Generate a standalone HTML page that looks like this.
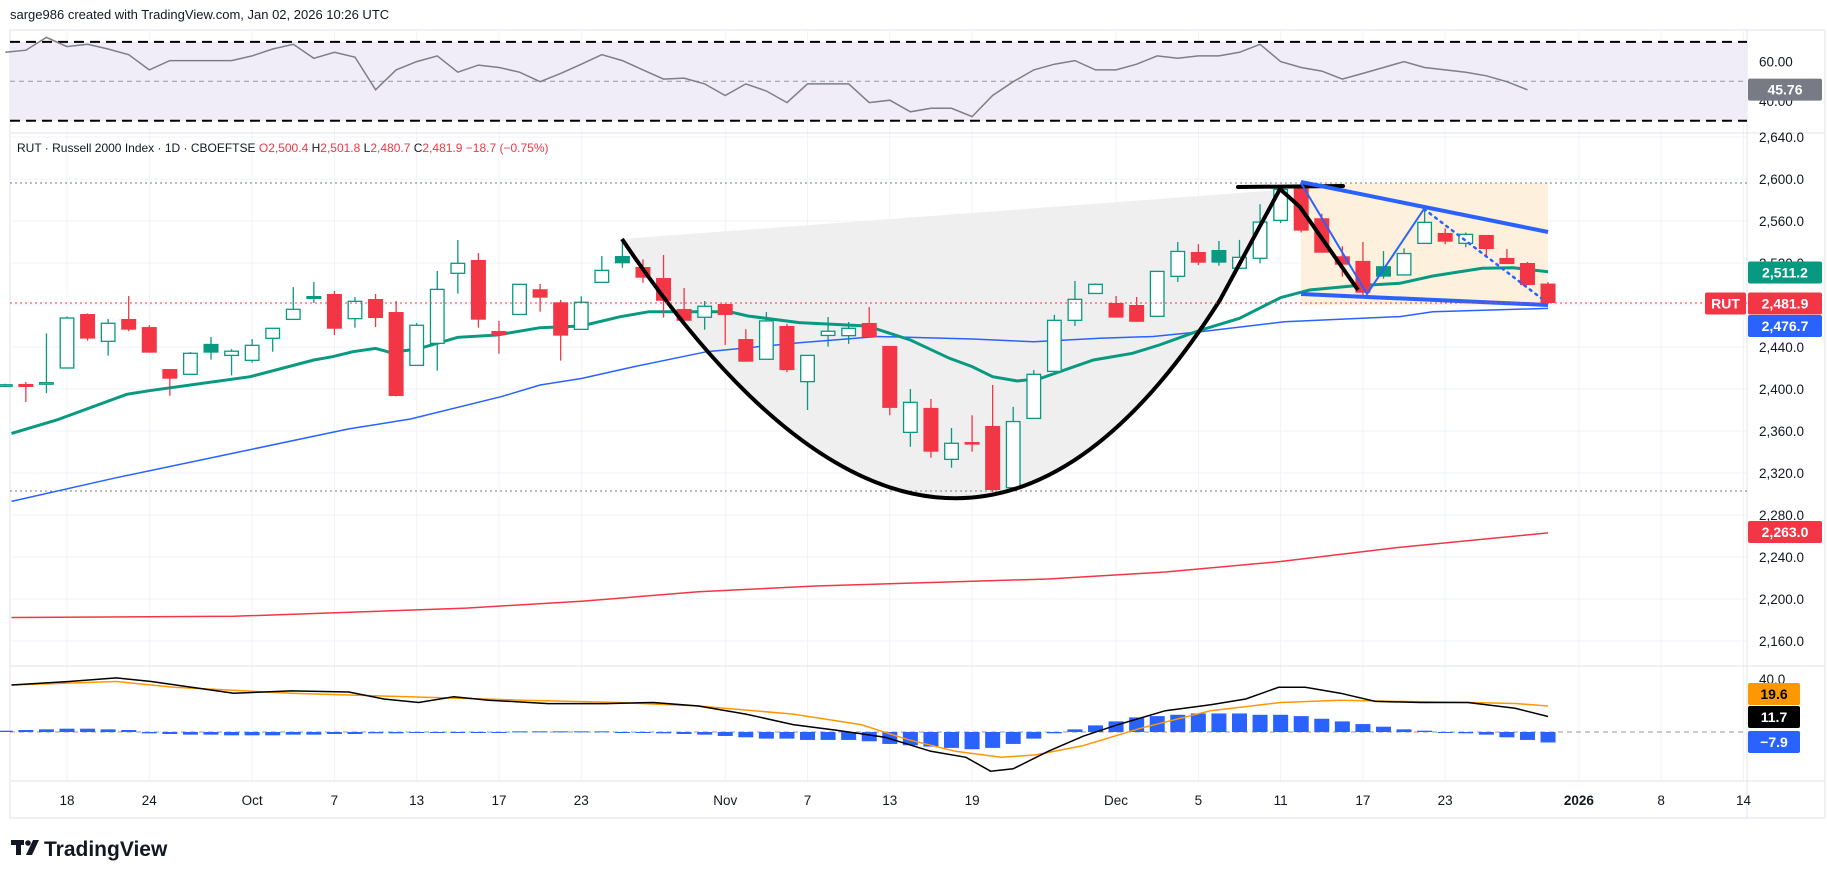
<!DOCTYPE html>
<html><head><meta charset="utf-8"><style>
html,body{margin:0;padding:0;background:#fff;width:1827px;height:878px;overflow:hidden}
svg text{font-family:"Liberation Sans",sans-serif}
</style></head><body>
<svg id="c" width="1827" height="878" viewBox="0 0 1827 878" xmlns="http://www.w3.org/2000/svg">
<text x="10" y="19" font-size="13" fill="#131722">sarge986 created with TradingView.com, Jan 02, 2026 10:26 UTC</text>
<rect x="10" y="30" width="1815" height="788" fill="none" stroke="#e0e3eb"/>
<g id="grid"></g>
<rect x="10" y="42" width="1737" height="79" fill="#f0edf9"/>
<g id="draw"></g>
<g id="ma"></g>
<g id="candles"></g>
<g id="over"></g>
<g id="rsi"></g>
<g id="macd"></g>
<g id="axis"></g>
<text x="17" y="152" font-size="12" fill="#131722">RUT · Russell 2000 Index · 1D · CBOEFTSE  <tspan fill="#f23645">O</tspan><tspan fill="#f23645">2,500.4</tspan> <tspan fill="#131722">H</tspan><tspan fill="#f23645">2,501.8</tspan> <tspan fill="#131722">L</tspan><tspan fill="#f23645">2,480.7</tspan> <tspan fill="#131722">C</tspan><tspan fill="#f23645">2,481.9 −18.7 (−0.75%)</tspan></text>
<g>
<g fill="#131722">
<rect x="11" y="840" width="13" height="5"/>
<rect x="16" y="840" width="5" height="15"/>
<circle cx="28" cy="843" r="2.8"/>
<polygon points="33,840 39,840 32,855 26,855"/>
</g>
<text x="44" y="856" font-size="21" font-weight="bold" fill="#131722">TradingView</text>
</g>
</svg>
<script>
const opens=[2403,2404.8,2405,2420,2471.4,2445.4,2466.7,2459,2419,2414,2443,2432,2427.3,2448.3,2466.3,2488.6,2490.5,2467,2485.7,2473.3,2422.5,2443.5,2510.2,2522.9,2455.2,2471,2495,2482.6,2456.8,2501.6,2526.7,2516.2,2505.7,2476.2,2468.3,2481,2447.6,2428.3,2460,2407,2451,2450.8,2462.9,2441,2358.7,2382,2333,2349.5,2364.8,2306,2372,2416.8,2465.4,2491,2481.9,2480,2469.2,2507.3,2530.5,2532.4,2515,2524.5,2560.6,2593,2562.6,2526.4,2522,2517,2508.6,2538.7,2548.6,2538.7,2546.7,2524.8,2520,2500.4];
const highs=[2405,2406.7,2453,2469,2472,2466.7,2488.6,2460.7,2419,2435.2,2449.5,2438,2447.6,2457.8,2497,2502,2493.3,2487.6,2490.5,2483.8,2462.8,2512.4,2541.9,2529.5,2464.8,2499.7,2500,2484.8,2488.3,2526.7,2540,2523.5,2527.6,2496.2,2483.8,2481,2457,2473.3,2462,2432,2468.6,2463.8,2478,2441,2400,2390.5,2362.9,2375,2403.8,2383,2418,2470.5,2502.9,2500.5,2488.6,2487.6,2512,2540,2538,2541,2542,2576,2593.6,2595,2567,2536,2540,2531.4,2534,2571,2553,2549,2546.7,2533.3,2521,2501.8];
const lows=[2402,2387.6,2396,2420,2446,2431.7,2455,2434.6,2393.6,2414,2428,2413,2425,2435.5,2466,2482,2451.4,2458.4,2459,2393,2422.5,2417.4,2490.8,2458.4,2433.6,2471,2473.6,2427,2456.8,2501.6,2515.5,2501.2,2468,2465,2456.5,2442,2426,2428,2416,2380,2440.3,2443,2449.5,2375,2345,2334.6,2325,2340.3,2302,2306,2372,2416.8,2460,2491,2468,2464,2469.2,2502,2518,2517.4,2515,2519.7,2558,2549,2529.8,2507,2488,2505,2508.6,2538.7,2538,2535,2526,2519,2499,2480.7];
const closes=[2404,2401.9,2406,2467.6,2448,2462.6,2456.5,2434.6,2409.8,2434,2434.6,2436,2441.6,2457.8,2475.9,2485.7,2457.4,2483.5,2467.6,2393.3,2460.7,2494.9,2519.7,2466,2451.4,2499.7,2487,2450.8,2482.6,2513,2519.7,2506,2484,2465,2478.8,2470.5,2426,2464.8,2418,2432,2455,2457.8,2449.5,2382,2387.3,2340.3,2348.3,2347,2303.8,2369,2414,2465.4,2485.4,2499.7,2468,2464,2512,2531,2520.3,2520.3,2525.4,2559,2590,2550.8,2529.8,2518.4,2491.7,2507,2529,2558.7,2540.3,2547.3,2533.3,2519,2499,2481.9];
const firstIndex=-3;
const emaIdx=[-2.7,-0.5,2.9,4,8.9,12,12.9,13.9,15,15.7,17,19,20.9,23,25,26.9,28.3,32.2,33.1,35.6,38.9,41,42.9,44,45,46.2,47.3,49.9,51.8,53.1,55.1,57,59,60.4,62.4,64.8,66.4,68.8,70.3,72];
const emaVals=[2357.7,2370.5,2395,2398.4,2411.7,2427.6,2430.8,2435.5,2438.7,2435,2437.8,2449.2,2451.4,2458.4,2460,2468.9,2473.6,2473.6,2469.5,2463.2,2460,2446.7,2429.2,2421.3,2411.7,2407.6,2410,2427.6,2434,2441.9,2456,2467.3,2487,2494.3,2498,2500.7,2507.6,2515,2515.5,2511.7];
const sma50Idx=[-2.7,2.4,8.1,13.7,16.7,21.1,23,25,27.5,31.1,35.6,39.4,44,47,50.2,52.8,55.1,59.2,64.8,66.4,72];
const sma50Vals=[2293,2315.5,2339,2362,2371.4,2392.7,2403.8,2410,2421,2435.5,2444,2450,2447.6,2445,2448.3,2450,2454.6,2464,2469,2473.6,2476.8];
const sma200Idx=[-2.7,8.1,19.4,25.1,30.7,36.4,42,47.7,53.4,59,64.7,72];
const sma200Vals=[2182.4,2183.5,2191.3,2198,2206.9,2212.4,2215.7,2219,2225.7,2235.7,2249,2263];
const rsiVals=[64.7,65.8,72.3,67.6,68.8,66.4,63.5,55.8,60.5,60.5,60.5,60.5,62.9,66.4,68.8,61.7,64.7,62.3,45.7,55.8,60,62.9,54.6,58.2,57,54.6,49.8,54,58.7,63.5,60.5,55.8,51.1,51.6,48.7,42.8,48.7,45.1,39.2,48.7,48.7,48.7,39.2,40.4,34.5,36.3,36.3,32.1,42.8,49.8,55.8,58.7,60.5,55.8,55.8,58.7,62.9,61.7,62.9,62.9,64.7,68.8,60,57,55.2,51.1,54,57,60,57,55.8,54.6,52.8,49.8,45.7];
const macdIdx=[-2.7,0.1,2.4,4.1,8.1,10.9,13.7,15.4,17.1,18.8,20.5,23.4,26.2,28.5,30.7,33,35.3,37.5,39.8,42,43.7,44.9,46,47.7,49.4,51.1,53.4,55.6,57.3,58.9,60.2,61.9,63.6,65.8,68.1,70.4,72];
const macdVals=[35.5,38.1,40.8,38.1,29.3,31,30.2,24.9,22.3,26.6,24,21.4,21.4,22.3,19.6,13.5,5.6,1.1,-4.1,-14.6,-19.1,-29.6,-27.8,-14.6,-3.2,5.6,16.1,20.5,24.9,33.7,33.7,29.3,23.1,22.3,22.3,17.9,11.7];
const sigIdx=[-2.7,2.4,5.2,10.9,16.6,22.2,26.8,30.7,35.3,38.6,40.9,43.2,45.4,47.1,49.4,52.2,55.6,59,61.9,64.7,68.1,70.4,72];
const sigVals=[35.5,38.1,33.7,29.3,26.6,24,22.3,19.6,13.5,5.6,-5.8,-14.6,-19.1,-17.3,-10.3,2.9,16.1,22.3,24,23.1,22.3,21.5,19.6];
const histVals=[1,1.5,2,2.5,2.5,2,1.5,-1,-1.5,-2,-2,-2.5,-2.5,-2.5,-2,-2,-1.5,-1.5,-1,-1,-0.5,-0.5,-0.5,0,0,0.5,0.5,0.5,0.5,0.5,0,-0.5,-1,-1.5,-2,-3,-4,-5,-5,-6,-6,-6,-7,-9,-10,-11,-12,-13,-12,-9,-5,-1,2,5,8,11,12,13,14,14,14,13,13,12,10,8,6,4,2,1,0,-1,-2,-4,-6,-7.9];
const priceTicks=[2160,2200,2240,2280,2320,2360,2400,2440,2480,2520,2560,2600,2640];
const dateTickIdx=[0,4,9,13,17,21,25,32,36,40,44,51,55,59,63,67,73.5,77.5,81.5];
const dateTickLabels=["18","24","Oct","7","13","17","23","Nov","7","13","19","Dec","5","11","17","23","2026","8","14"];

const NS="http://www.w3.org/2000/svg";
const xOf=i=>67+20.57*i;
const yOf=p=>179+(2600-p)*1.05;
const rsiY=v=>61.6+(60-v)*1.97;
const mY=v=>732-v*1.325;
function mk(tag,attrs,parent){const e=document.createElementNS(NS,tag);for(const k in attrs)e.setAttribute(k,attrs[k]);parent.appendChild(e);return e;}
const G=id=>document.getElementById(id);
const fmt=v=>v.toLocaleString('en-US',{minimumFractionDigits:1,maximumFractionDigits:1});

const grid=G('grid');
priceTicks.forEach(p=>{const l=mk('line',{x1:10,x2:1747,y1:yOf(p),y2:yOf(p),stroke:'#f0f3fa'},grid);

});
dateTickIdx.forEach(i=>{const l=mk('line',{x1:xOf(i),x2:xOf(i),y1:30,y2:781,stroke:'#f0f3fa'},grid);

});
[[133,'rsi-separator'],[666,'macd-separator'],[781,'time-axis-separator']].forEach(([y,n])=>{const l=mk('line',{x1:10,x2:1825,y1:y,y2:y,stroke:'#e0e3eb'},grid);

});
const vs=mk('line',{x1:1747,x2:1747,y1:30,y2:818,stroke:'#e0e3eb'},grid);



const dr=G('draw');
const cupFill=mk('path',{d:'M622,239 L1280,190 L1220,300 Q950,725 622,239 Z',fill:'#efefef'},dr);


const flag=mk('rect',{x:1301,y:183,width:247,height:122,fill:'#fdf0dc'},dr);


const hi=mk('line',{x1:10,x2:1747,y1:183,y2:183,stroke:'#787b86','stroke-dasharray':'2 3'},dr);


const lo=mk('line',{x1:10,x2:1747,y1:491,y2:491,stroke:'#787b86','stroke-dasharray':'2 3'},dr);



const ma=G('ma');
function line(idx,vals,yf,attrs,parent,name){const pts=idx.map((i,k)=>xOf(i).toFixed(1)+','+yf(vals[k]).toFixed(1)).join(' ');
const e=mk('polyline',Object.assign({points:pts,fill:'none'},attrs),parent);

return e;}
line(sma200Idx,sma200Vals,yOf,{stroke:'#f23645','stroke-width':1.5},ma,'sma200-line');
line(sma50Idx,sma50Vals,yOf,{stroke:'#2962ff','stroke-width':1.5},ma,'sma50-line');
line(emaIdx,emaVals,yOf,{stroke:'#089981','stroke-width':3},ma,'ema20-line');

const cg=G('candles');
closes.forEach((c,k)=>{const i=k+firstIndex,o=opens[k],h=highs[k],l=lows[k];
const prev=k>0?closes[k-1]:o;const col=c>=prev?'#089981':'#f23645';const x=xOf(i);
const g=mk('g',{},cg);


mk('line',{x1:x,x2:x,y1:yOf(h),y2:yOf(l),stroke:col,'stroke-width':1.3},g);
const top=yOf(Math.max(o,c)),bh=Math.max(1.5,Math.abs(yOf(o)-yOf(c)));
if(c>o){mk('rect',{x:x-6.8,y:top,width:13.6,height:bh,fill:'#fff',stroke:col,'stroke-width':1.3},g);}
else{mk('rect',{x:x-7.5,y:top,width:15,height:bh,fill:col},g);}
});

const ov=G('over');
function pl(pts,attrs,name){const e=mk('polyline',Object.assign({points:pts,fill:'none'},attrs),ov);

}
const cup=mk('path',{d:'M622,239 Q950,725 1220,300 L1280,189 L1300,207 L1358,290',fill:'none',stroke:'#000','stroke-width':4,'stroke-linejoin':'round'},ov);


pl('1238,187 1343,186',{stroke:'#000','stroke-width':4,'stroke-linecap':'round'},'rim-line');
pl('1301,182 1548,232',{stroke:'#2962ff','stroke-width':4},'flag-top-line');
pl('1301,294 1548,305',{stroke:'#2962ff','stroke-width':4},'flag-bottom-line');
pl('1301,183 1367,294 1424,209',{stroke:'#2962ff','stroke-width':2},'flag-zigzag');
pl('1424,209 1541,298',{stroke:'#2962ff','stroke-width':2.5,'stroke-dasharray':'2 5','stroke-linecap':'round'},'flag-dotted-leg');
const cur=mk('line',{x1:10,x2:1747,y1:yOf(2481.9),y2:yOf(2481.9),stroke:'#f23645','stroke-dasharray':'2 3'},ov);



const rg=G('rsi');
[[70,'#000',2,'10 6'],[30,'#000',2,'10 6'],[50,'#9598a1',1,'5 4']].forEach(([v,c,w,d])=>{const l=mk('line',{x1:10,x2:1747,y1:rsiY(v),y2:rsiY(v),stroke:c,'stroke-width':w,'stroke-dasharray':d},rg);

});
line(rsiVals.map((v,k)=>k+firstIndex),rsiVals,rsiY,{stroke:'#7e7e86','stroke-width':1.5},rg,'rsi-line');

const mg=G('macd');
const z=mk('line',{x1:10,x2:1747,y1:mY(0),y2:mY(0),stroke:'#9598a1','stroke-dasharray':'5 4'},mg);


histVals.forEach((v,k)=>{const x=xOf(k+firstIndex);const r=mk('rect',{x:x-7.5,y:Math.min(mY(0),mY(v)),width:15,height:Math.max(1,Math.abs(mY(v)-mY(0))),fill:'#2962ff'},mg);

});
line(sigIdx,sigVals,mY,{stroke:'#ff9800','stroke-width':1.5},mg,'signal-line');
line(macdIdx,macdVals,mY,{stroke:'#000','stroke-width':1.5},mg,'macd-line');

const ax=G('axis');
priceTicks.forEach(p=>{const t=mk('text',{x:1759,y:yOf(p)+5,'font-size':13.5,fill:'#131722'},ax);t.textContent=fmt(p);

});
[[60,'60.00'],[40,'40.00']].forEach(([v,s])=>{const t=mk('text',{x:1759,y:rsiY(v)+5,'font-size':13.5,fill:'#131722'},ax);t.textContent=s;

});
const m40=mk('text',{x:1759,y:mY(40)+5,'font-size':13.5,fill:'#131722'},ax);m40.textContent='40.0';


dateTickIdx.forEach((i,k)=>{const t=mk('text',{x:xOf(i),y:805,'font-size':13.5,fill:'#131722','text-anchor':'middle','font-weight':dateTickLabels[k]==='2026'?'bold':'normal'},ax);t.textContent=dateTickLabels[k];

});
function tag(x,y,w,bg,fg,txt,name){const g=mk('g',{},ax);


mk('rect',{x:x,y:y-11,width:w,height:22,fill:bg,rx:2},g);
const t=mk('text',{x:x+w/2,y:y+5,'font-size':14,fill:fg,'text-anchor':'middle','font-weight':'bold'},g);t.textContent=txt;}
tag(1748,89.6,74,'#787b86','#fff','45.76','rsi-value-tag');
tag(1748,272.5,74,'#089981','#fff',fmt(emaVals[emaVals.length-1]-0.5),'ema-value-tag');
tag(1705,303.5,41,'#f23645','#fff','RUT','symbol-tag');
tag(1748,303.5,74,'#f23645','#fff',fmt(closes[closes.length-1]),'last-price-tag');
tag(1748,326,74,'#2962ff','#fff','2,476.7','sma50-value-tag');
tag(1748,532,74,'#f23645','#fff',fmt(sma200Vals[sma200Vals.length-1]),'sma200-value-tag');
tag(1748,694,52,'#ff9800','#000','19.6','signal-value-tag');
tag(1748,717,52,'#000','#fff','11.7','macd-value-tag');
tag(1748,742,52,'#2962ff','#fff','−7.9','hist-value-tag');
</script>
</body></html>
